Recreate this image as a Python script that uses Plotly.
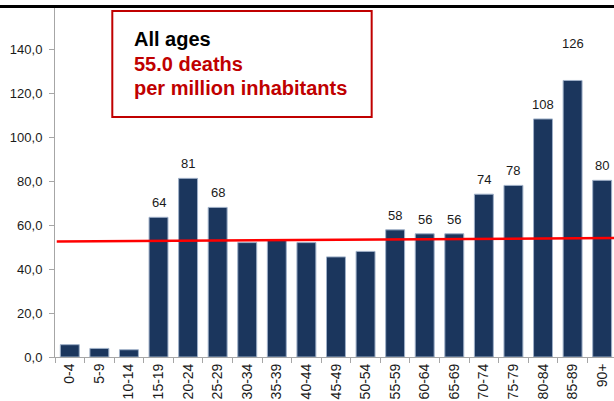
import plotly.graph_objects as go

# ---- data ----
age_groups = ["0-4", "5-9", "10-14", "15-19", "20-24", "25-29", "30-34", "35-39",
              "40-44", "45-49", "50-54", "55-59", "60-64", "65-69", "70-74",
              "75-79", "80-84", "85-89", "90+"]
deaths_per_million = [5.6, 3.9, 3.3, 63.5, 81.2, 68.0, 52.0, 53.0, 52.0, 45.5,
                      48.0, 57.8, 56.0, 56.0, 74.0, 78.0, 108.2, 125.7, 80.3]
bar_labels = ["", "", "", "64", "81", "68", "", "", "", "", "",
              "58", "56", "56", "74", "78", "108", "126", "80"]
trend_y = [52.5, 54.1]
y_tickvals = [0, 20, 40, 60, 80, 100, 120, 140]
box_lines = ["All ages", "55.0 deaths", "per million inhabitants"]

# ---- styles ----
BAR = "#1b365d"
BAR_EDGE = "#9fb0c8"
RED_TXT = "#c00000"
FONT = "Liberation Sans, Arial, sans-serif"
label_extra_shift = {"85-89": 22}

fig = go.Figure()
fig.add_trace(go.Bar(
    x=age_groups, y=deaths_per_million,
    marker=dict(color=BAR, line=dict(color=BAR_EDGE, width=1)),
    hoverinfo="x+y", showlegend=False,
))

annotations = []
for cat, val, lab in zip(age_groups, deaths_per_million, bar_labels):
    if lab:
        annotations.append(dict(
            x=cat, y=val, xref="x", yref="y", text=lab, showarrow=False,
            yanchor="bottom", yshift=5 + label_extra_shift.get(cat, 0),
            font=dict(family=FONT, size=13, color="#1a1a1a")))

# text box lines
box_text_y = [0.9034, 0.8324, 0.7631]
box_colors = ["#000000", RED_TXT, RED_TXT]
for t, yy, c in zip(box_lines, box_text_y, box_colors):
    annotations.append(dict(
        x=0.1377, y=yy, xref="paper", yref="paper", text="<b>" + t + "</b>",
        showarrow=False, xanchor="left", yanchor="middle",
        font=dict(family=FONT, size=20, color=c)))

shapes = [
    # red average line
    dict(type="line", xref="x", yref="y", x0=-0.44, x1=18.4,
         y0=trend_y[0], y1=trend_y[1], line=dict(color="#ff0000", width=2.5)),
    # text box
    dict(type="rect", xref="paper", yref="paper", x0=0.1025, x1=0.5665,
         y0=0.6818, y1=0.983, line=dict(color=RED_TXT, width=2),
         fillcolor="rgba(0,0,0,0)"),
    # top black rule
    dict(type="line", xref="paper", yref="paper", x0=-0.1, x1=1.0,
         y0=0.9957, y1=0.9957, line=dict(color="#000000", width=3)),
]

fig.update_layout(
    width=614, height=401,
    margin=dict(l=55, r=0, t=5, b=44),
    paper_bgcolor="white", plot_bgcolor="white",
    separators=", ",
    bargap=0.36,
    font=dict(family=FONT, size=13, color="#1a1a1a"),
    annotations=annotations, shapes=shapes,
    xaxis=dict(type="category", range=[-0.5, 18.4], showline=True,
               linecolor="#a6a6a6", linewidth=1, ticks="outside",
               tickson="boundaries", ticklen=5, tickcolor="#a6a6a6",
               tickangle=-90, tickfont=dict(family=FONT, size=14, color="#1a1a1a"),
               showgrid=False, zeroline=False, automargin=False),
    yaxis=dict(range=[0, 160], tickvals=y_tickvals, tickformat=".1f",
               showline=True, linecolor="#a6a6a6", linewidth=1,
               ticks="outside", ticklen=5, tickcolor="#a6a6a6",
               ticklabelstandoff=4,
               tickfont=dict(family=FONT, size=13, color="#1a1a1a"),
               showgrid=False, zeroline=False, automargin=False),
)

fig.write_html("out.html", config={"displayModeBar": False},
               post_script="document.body.style.margin='0';document.body.style.overflow='hidden';")
